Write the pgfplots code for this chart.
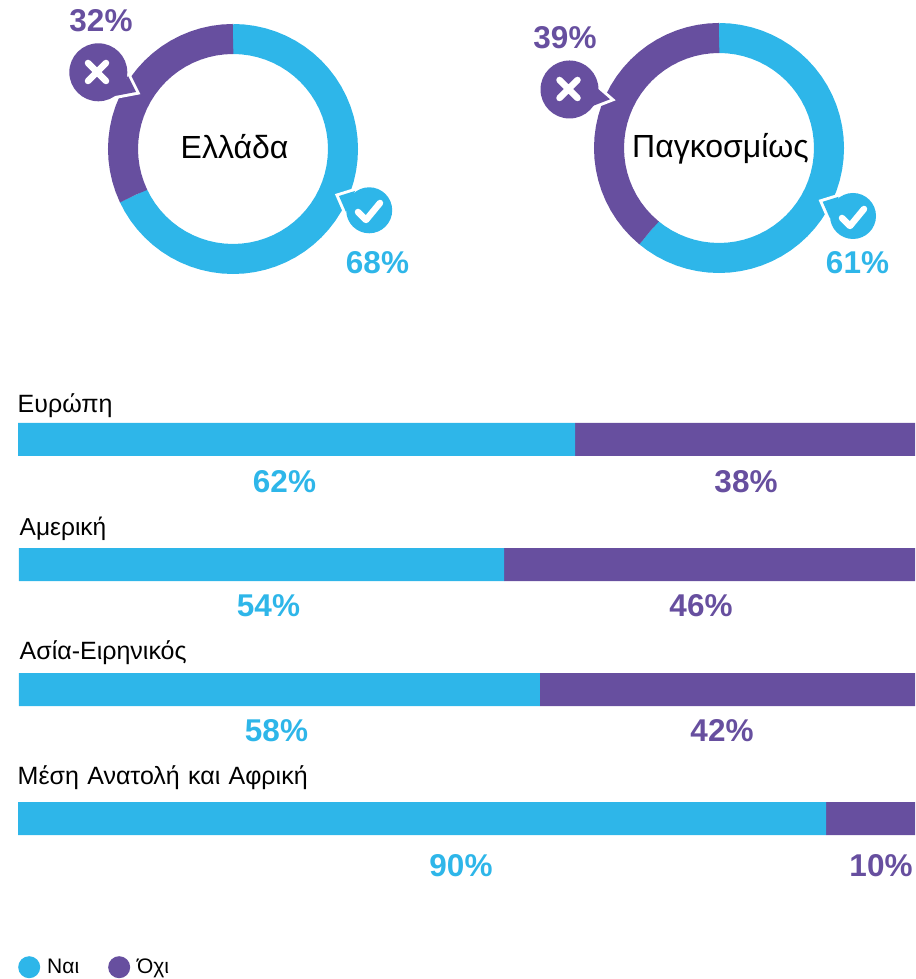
\documentclass[border=0pt]{standalone}
\usepackage{fontspec}
\setmainfont{Liberation Sans}
\usepackage{pgfplots}
\pgfplotsset{compat=1.18}
\definecolor{nai}{RGB}{46,182,233}
\definecolor{ochi}{RGB}{103,79,159}
\newcommand{\fs}[1]{\fontsize{#1}{#1}\selectfont}
\pgfplotsset{donut/.style={
    width=250pt, height=250pt, scale only axis, hide axis, clip=false,
    xmin=-125, xmax=125, ymin=-125, ymax=125, anchor=south west}}
% tail corners a, tip b, corner c, bubble centre and radius, then colour
\newcommand{\bubble}[6]{%
  \draw[white, line width=6pt, miter limit=10] #1 -- #2 -- #3;
  \fill[white] #4 circle (#5+3);
  \fill[#6] #1 -- #2 -- #3 -- cycle;
  \fill[#6] #4 circle (#5);
}
\begin{document}
\begin{tikzpicture}
\useasboundingbox (0,0) rectangle (915pt,979pt);

% Ελλάδα: 68 / 32
\begin{axis}[donut, at={(108pt,705pt)}]
\addplot[nai, line width=30pt, data cs=polar] coordinates {
 (90,110) (89.9,110) (85,110) (80,110) (75,110) (70,110) (65,110) (60,110) (55,110) (50,110) (45,110)
 (40,110) (35,110) (30,110) (25,110) (20,110) (15,110) (10,110) (5,110) (0,110) (-5,110)
 (-10,110) (-15,110) (-20,110) (-25,110) (-30,110) (-35,110) (-40,110) (-45,110) (-50,110) (-55,110)
 (-60,110) (-65,110) (-70,110) (-75,110) (-80,110) (-85,110) (-90,110) (-95,110) (-100,110) (-105,110)
 (-110,110) (-115,110) (-120,110) (-125,110) (-130,110) (-135,110) (-140,110) (-145,110) (-150,110) (-154.7,110) (-154.8,110)};
\addplot[ochi, line width=30pt, data cs=polar] coordinates {
 (-154.8,110) (-154.9,110) (-160,110) (-165,110) (-170,110) (-175,110) (-180,110) (-185,110) (-190,110) (-195,110) (-200,110)
 (-205,110) (-210,110) (-215,110) (-220,110) (-225,110) (-230,110) (-235,110) (-240,110) (-245,110) (-250,110)
 (-255,110) (-260,110) (-265,110) (-269.9,110) (-270,110)};
\end{axis}

% Παγκοσμίως: 61 / 39
\begin{axis}[donut, at={(594pt,706pt)}]
\addplot[nai, line width=30pt, data cs=polar] coordinates {
 (90,110) (89.9,110) (85,110) (80,110) (75,110) (70,110) (65,110) (60,110) (55,110) (50,110) (45,110)
 (40,110) (35,110) (30,110) (25,110) (20,110) (15,110) (10,110) (5,110) (0,110) (-5,110)
 (-10,110) (-15,110) (-20,110) (-25,110) (-30,110) (-35,110) (-40,110) (-45,110) (-50,110) (-55,110)
 (-60,110) (-65,110) (-70,110) (-75,110) (-80,110) (-85,110) (-90,110) (-95,110) (-100,110) (-105,110)
 (-110,110) (-115,110) (-120,110) (-125,110) (-129.5,110) (-129.6,110)};
\addplot[ochi, line width=30pt, data cs=polar] coordinates {
 (-129.6,110) (-129.7,110) (-135,110) (-140,110) (-145,110) (-150,110) (-155,110) (-160,110) (-165,110) (-170,110) (-175,110)
 (-180,110) (-185,110) (-190,110) (-195,110) (-200,110) (-205,110) (-210,110) (-215,110) (-220,110) (-225,110)
 (-230,110) (-235,110) (-240,110) (-245,110) (-250,110) (-255,110) (-260,110) (-265,110) (-269.9,110) (-270,110)};
\end{axis}

% regions, y is the pixel row
\begin{axis}[
    at={(18pt,139pt)}, anchor=south west,
    width=897pt, height=420pt, scale only axis, hide axis, clip=false,
    xmin=0, xmax=100, ymin=420, ymax=840, y dir=reverse,
    xbar stacked, bar width=33pt,
    legend cell align=left,
    legend columns=2,
    legend style={draw=none, fill=none, font=\fs{21}, at={(0,0)}, anchor=north west,
      xshift=0pt, yshift=-116pt, inner sep=0pt,
      /tikz/every odd column/.append style={column sep=5pt},
      /tikz/every even column/.append style={column sep=27pt}},
    legend image code/.code={\fill[#1] (8pt,0pt) circle (11pt);},
]
\addplot[draw=none, fill=none, forget plot] coordinates {(0,439.5) (0.11,564.5) (0.11,689.5) (0,818.5)};
\addplot[draw=none, fill=nai] coordinates {(62.1,439.5) (54.07,564.5) (58.08,689.5) (90.08,818.5)};
\addplot[draw=none, fill=ochi] coordinates {(37.9,439.5) (45.82,564.5) (41.81,689.5) (9.92,818.5)};
\legend{Ναι, Όχι}
\end{axis}

\begin{scope}[x=1pt, y=-1pt, shift={(0,979pt)}]
\bubble{(128,76)}{(136,92)}{(115,96)}{(98.3,72.3)}{29}{ochi}
\bubble{(597.3,88.3)}{(610,99.3)}{(592.7,106)}{(569.5,89.5)}{29}{ochi}
\bubble{(355,191)}{(339,196)}{(346,212)}{(369.2,210.3)}{23}{nai}
\bubble{(838.7,196.8)}{(822.7,201.8)}{(829.7,217.8)}{(853,216)}{23}{nai}

\draw[white, line width=6.5pt, line cap=round] (88,63) -- (106,81) (106,63) -- (88,81);
\draw[white, line width=6.5pt, line cap=round] (559.5,80) -- (577.5,98) (577.5,80) -- (559.5,98);
\draw[white, line width=6.5pt, line cap=round, line join=round] (358,212) -- (366,220) -- (380,203);
\draw[white, line width=6.5pt, line cap=round, line join=round] (842,218) -- (850,226) -- (864,209);

\tikzset{every node/.style={inner sep=0pt}}
\node[anchor=base, font=\fs{32}] at (234.5,159) {Ελλάδα};
\node[anchor=base, font=\fs{32}] at (720.5,158) {Παγκοσμίως};

\node[anchor=base, font=\fs{31.5}\bfseries, text=ochi] at (101,32) {32\%};
\node[anchor=base, font=\fs{31.5}\bfseries, text=nai] at (377.5,273.5) {68\%};
\node[anchor=base, font=\fs{31.5}\bfseries, text=ochi] at (565,48.5) {39\%};
\node[anchor=base, font=\fs{31.5}\bfseries, text=nai] at (857.5,273.5) {61\%};

\node[anchor=base west, font=\fs{25}] at (17.5,412.5) {Ευρώπη};
\node[anchor=base west, font=\fs{24.5}] at (19.5,536) {Αμερική};
\node[anchor=base west, font=\fs{25}] at (19.5,660) {Ασία-Ειρηνικός};
\node[anchor=base west, font=\fs{25}] at (17.5,785) {\spaceskip=8.3pt Μέση Ανατολή και Αφρική};

\node[anchor=base, font=\fs{31.5}\bfseries, text=nai] at (284.5,492.5) {62\%};
\node[anchor=base, font=\fs{31.5}\bfseries, text=ochi] at (746,492.5) {38\%};
\node[anchor=base, font=\fs{31.5}\bfseries, text=nai] at (268.5,617) {54\%};
\node[anchor=base, font=\fs{31.5}\bfseries, text=ochi] at (701,617) {46\%};
\node[anchor=base, font=\fs{31.5}\bfseries, text=nai] at (276.5,742) {58\%};
\node[anchor=base, font=\fs{31.5}\bfseries, text=ochi] at (722,742) {42\%};
\node[anchor=base, font=\fs{31.5}\bfseries, text=nai] at (461,877) {90\%};
\node[anchor=base, font=\fs{31.5}\bfseries, text=ochi] at (881,877) {10\%};
\end{scope}
\end{tikzpicture}
\end{document}
